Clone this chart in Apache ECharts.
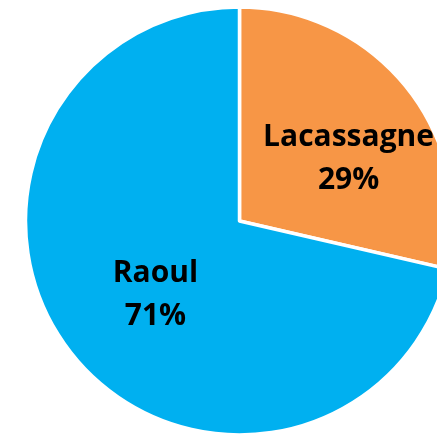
<!DOCTYPE html>
<html>
<head>
<meta charset="utf-8">
<script src="https://cdn.jsdelivr.net/npm/echarts@6/dist/echarts.min.js"></script>
<style>html,body{margin:0;padding:0;background:#fff;}#c{width:437px;height:436px;}</style>
</head>
<body>
<div id="c"></div>
<script>
const categories = ['Lacassagne', 'Raoul'];
const values = [28.6, 71.4];
const colors = ['#F79646', '#00B0F0'];

const chart = echarts.init(document.getElementById('c'), null, {renderer: 'canvas'});
const shifts = [[23, 6], [2, 5]];
chart.setOption({
  animation: false,
  series: [{
    type: 'pie',
    center: [239.5, 221],
    radius: [0, 214],
    startAngle: 90,
    clockwise: true,
    percentPrecision: 0,
    data: categories.map((n, i) => ({name: n, value: values[i], itemStyle: {color: colors[i]}})),
    itemStyle: {borderColor: '#fff', borderWidth: 3.5},
    label: {
      position: 'inside',
      formatter: '{b}\n{d}%',
      color: '#000',
      fontFamily: 'Open Sans',
      fontWeight: 'bold',
      fontSize: 30,
      lineHeight: 43,
      align: 'center'
    },
    labelLine: {show: false},
    labelLayout: function (p) { return {dx: shifts[p.dataIndex][0], dy: shifts[p.dataIndex][1]}; },
    emphasis: {disabled: true}
  }]
});
</script>
</body>
</html>
